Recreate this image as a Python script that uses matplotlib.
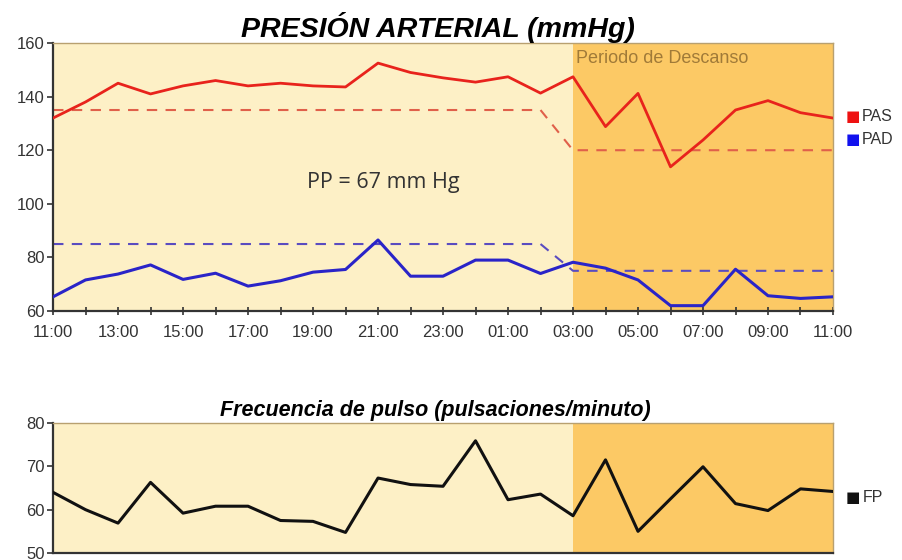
import numpy as np
import matplotlib.pyplot as plt

# hours since 11:00 (hourly readings over 24 h)
horas = list(range(25))
tick_labels = ['11:00', '13:00', '15:00', '17:00', '19:00', '21:00', '23:00',
               '01:00', '03:00', '05:00', '07:00', '09:00', '11:00']

pas = [132, 138, 145, 141, 144, 146, 144, 145, 144, 143.6, 152.5, 149, 147,
       145.4, 147.4, 141.3, 147.4, 128.8, 141.2, 113.8, 123.8, 135, 138.5, 134, 132]
pad = [65.3, 71.6, 73.8, 77.2, 71.8, 74.1, 69.3, 71.3, 74.5, 75.5, 86.5, 73, 73,
       79, 79, 74, 78.2, 76, 71.6, 62, 62, 75.6, 65.7, 64.7, 65.3]
fp = [64, 60, 56.9, 66.3, 59.2, 60.8, 60.8, 57.5, 57.3, 54.75, 67.3, 65.8, 65.4,
      75.9, 62.3, 63.6, 58.6, 71.5, 55, 62.5, 69.9, 61.4, 59.8, 64.8, 64.2]

# reference (target) means, day / night
ref_x = [0, 15, 16, 24]
pas_ref = [135, 135, 120, 120]
pad_ref = [85, 85, 75, 75]

descanso_ini = 16  # 03:00

light = '#FDF0C6'
dark = '#FCC965'

plt.rcParams['font.family'] = ['Liberation Sans', 'DejaVu Sans']

fig = plt.figure(figsize=(9.02, 5.60), dpi=100)
ax1 = fig.add_axes([0.0588, 0.4446, 0.8647, 0.4786])
ax2 = fig.add_axes([0.0588, 0.0125, 0.8647, 0.2321])

for ax in (ax1, ax2):
    ax.set_facecolor(light)
    ax.axvspan(descanso_ini, 24, color=dark, lw=0, zorder=0)
    ax.set_xlim(0, 24)
    for s in ('top', 'right'):
        ax.spines[s].set_color('#B8A070')
        ax.spines[s].set_linewidth(1)
    for s in ('left', 'bottom'):
        ax.spines[s].set_color('#333333')
        ax.spines[s].set_linewidth(1.6)
    ax.tick_params(axis='y', labelsize=12, colors='#333333', length=4, width=1.2, pad=2)

# top: blood pressure
ax1.plot(horas, pas, color='#E8231C', lw=2, zorder=3)
ax1.plot(horas, pad, color='#2A24C8', lw=2.2, zorder=3)
ax1.plot(ref_x, pas_ref, color='#E0604A', lw=1.5, ls=(0, (5, 4)), zorder=2)
ax1.plot(ref_x, pad_ref, color='#5A4CC0', lw=1.5, ls=(0, (5, 4)), zorder=2)
ax1.set_ylim(60, 160)
ax1.set_yticks([60, 80, 100, 120, 140, 160])
ax1.set_xticks(range(0, 25, 2))
ax1.set_xticklabels(tick_labels)
ax1.set_xticks(range(0, 25), minor=True)
ax1.tick_params(axis='x', which='both', direction='inout', length=6, width=1.2,
                labelsize=12, colors='#333333', pad=7)
ax1.set_title('PRESIÓN ARTERIAL (mmHg)', fontsize=20.5, fontweight='bold',
              fontstyle='italic', pad=3, x=0.494)
ax1.text(descanso_ini + 0.1, 157.5, 'Periodo de Descanso', fontsize=13,
         color='#A07A38', va='top', ha='left')
ax1.text(7.8, 108, 'PP = 67 mm Hg', fontsize=15.5, color='#333333',
         family=['Open Sans', 'DejaVu Sans'], va='center')

# legend squares
fig.text(0.937, 0.792, '\u25A0', color='#EE1111', fontsize=11, va='center',
         family='DejaVu Sans')
fig.text(0.955, 0.792, 'PAS', color='#333333', fontsize=11.5, va='center')
fig.text(0.937, 0.750, '\u25A0', color='#1111EE', fontsize=11, va='center',
         family='DejaVu Sans')
fig.text(0.955, 0.750, 'PAD', color='#333333', fontsize=11.5, va='center')

# bottom: pulse
ax2.plot(horas, fp, color='#111111', lw=2.2, zorder=3)
ax2.set_ylim(50, 80)
ax2.set_yticks([50, 60, 70, 80])
ax2.set_xticks([])
ax2.set_title('Frecuencia de pulso (pulsaciones/minuto)', fontsize=15.5,
              fontweight='bold', fontstyle='italic', pad=5, x=0.49)
fig.text(0.937, 0.111, '\u25A0', color='#111111', fontsize=11, va='center',
         family='DejaVu Sans')
fig.text(0.957, 0.111, 'FP', color='#333333', fontsize=11.5, va='center')

fig.savefig('out.png', dpi=100)
